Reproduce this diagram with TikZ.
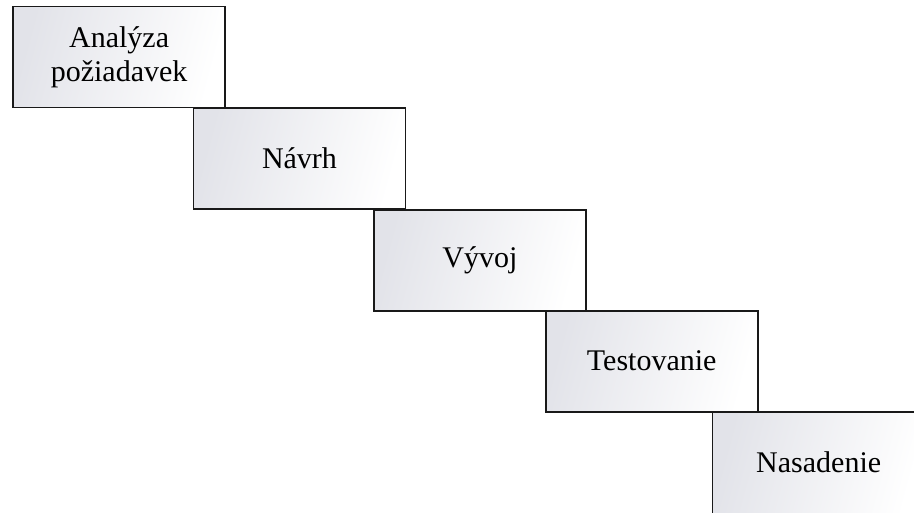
\documentclass[tikz,border=0pt]{standalone}
\usepackage{fontspec}
\setmainfont{Liberation Serif}
\definecolor{boxgray}{RGB}{226,227,233}
\definecolor{edgecol}{RGB}{25,25,25}
\tikzset{
  stagebase/.style={left color=boxgray, right color=white,
    shading angle=75, minimum width=212pt, minimum height=101pt, inner sep=0pt,
    align=center, font=\fontsize{30}{34}\selectfont},
  stage/.style={stagebase, draw=edgecol, line width=1.8pt},
  edge/.style={draw=edgecol, line width=1.8pt}
}
\begin{document}
\begin{tikzpicture}[x=1pt,y=-1pt]
\useasboundingbox (0,0) rectangle (914,512);
\begin{scope}
\clip (0,0) rectangle (914,512);
\fill[white] (0,0) rectangle (914,512);
\node[stage] (a) at (119.1,57) {Analýza\\požiadavek};
\node[stage] (b) at (299.5,158.7) {Návrh};
\node[stage] (c) at (479.9,260.4) {Vývoj};
\node[stage] (d) at (651.7,361.2) {Testovanie};
\node[stagebase] (e) at (818.7,462.5) {Nasadenie};
\draw[edge, line cap=rect] (e.north east) -- (e.north west) -- (e.south west);
\end{scope}
\end{tikzpicture}
\end{document}
